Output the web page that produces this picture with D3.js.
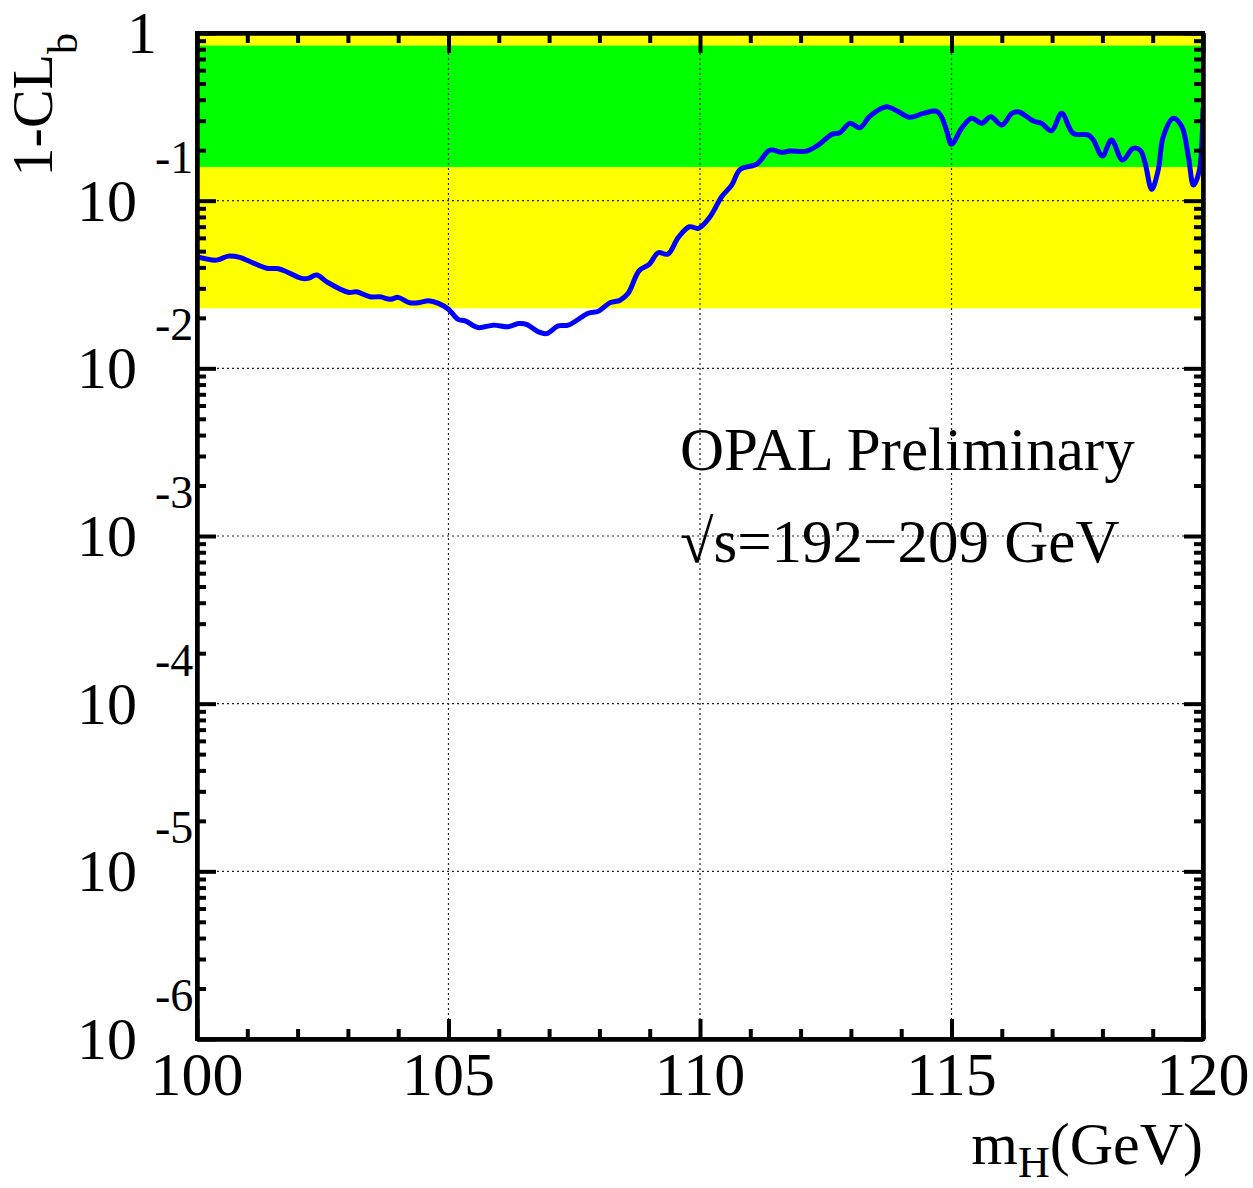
<!DOCTYPE html>
<html>
<head>
<meta charset="utf-8">
<script src="https://cdn.jsdelivr.net/npm/d3@7"></script>
<style>
  html, body { margin: 0; padding: 0; background: #fff; }
  svg { display: block; }
  text { font-family: "Liberation Serif", "Times New Roman", serif; fill: #000; }
</style>
</head>
<body>
<svg id="chart" width="1253" height="1188"></svg>
<script>
// Higgs mass hypothesis (GeV)
const mH = [100.0, 100.39, 100.62, 100.85, 101.02, 101.39, 101.62, 101.78, 102.08, 102.21,
  102.38, 102.58, 103.01, 103.17, 103.44, 103.64, 103.84, 104.0, 104.23, 104.43,
  104.6, 104.8, 105.0, 105.19, 105.33, 105.59, 105.89, 106.19, 106.39, 106.55,
  106.79, 106.95, 107.18, 107.38, 107.78, 107.98, 108.21, 108.41, 108.57, 108.79,
  108.99, 109.17, 109.36, 109.57, 109.79, 109.97, 110.2, 110.43, 110.63, 110.8,
  111.13, 111.39, 111.62, 111.79, 112.12, 112.35, 112.62, 112.78, 112.98, 113.18,
  113.38, 113.71, 113.91, 114.17, 114.44, 114.71, 114.8, 114.9, 115.0, 115.2,
  115.4, 115.6, 115.78, 116.0, 116.2, 116.33, 116.63, 116.79, 116.99, 117.19,
  117.42, 117.72, 117.82, 118.0, 118.18, 118.4, 118.61, 118.75, 118.85, 118.98,
  119.11, 119.21, 119.41, 119.58, 119.71, 119.81, 119.92, 120.0];

// Observed background confidence 1-CL_b
const clb = [0.0463, 0.0442, 0.0467, 0.0459, 0.0438, 0.0395, 0.0393, 0.0377, 0.0344, 0.0344,
  0.0360, 0.0328, 0.0284, 0.0286, 0.0267, 0.0267, 0.0258, 0.0265, 0.0246, 0.0247,
  0.0253, 0.0244, 0.0225, 0.0196, 0.0192, 0.0175, 0.0181, 0.0177, 0.0185, 0.0183,
  0.0165, 0.0161, 0.0179, 0.0181, 0.0213, 0.0219, 0.0246, 0.0255, 0.0280, 0.0382,
  0.0417, 0.0489, 0.0480, 0.0604, 0.0699, 0.0684, 0.0802, 0.1055, 0.1239, 0.1537,
  0.1654, 0.2003, 0.1941, 0.1976, 0.1976, 0.2147, 0.2486, 0.2541, 0.2892, 0.2723,
  0.3197, 0.3633, 0.3439, 0.3141, 0.3318, 0.3410, 0.3167, 0.2637, 0.2168, 0.2700,
  0.3098, 0.2892, 0.3167, 0.2826, 0.3318, 0.3391, 0.2985, 0.2892, 0.2613, 0.3318,
  0.2520, 0.2462, 0.2299, 0.1845, 0.2299, 0.1747, 0.2051, 0.2003, 0.1669, 0.1168,
  0.1523, 0.2406, 0.3098, 0.2760, 0.1827, 0.1239, 0.1481, 0.357];

// Expected background-only bands: 1 sigma and 2 sigma
const band1sigma = [0.1587, 0.8413];
const band2sigma = [0.0228, 0.9772];

// Axis ticks
const xMajorTicks = [100, 105, 110, 115, 120];
const xMinorTicks = d3.range(100, 121, 1).filter(v => v % 5 !== 0);
const yExponents = [0, -1, -2, -3, -4, -5, -6];
const xTickLabels = ["100", "105", "110", "115", "120"];

const svg = d3.select("#chart");
const W = 1253, H = 1188;
const plot = { left: 197, top: 33, right: 1203, bottom: 1039 };

const x = d3.scaleLinear().domain([100, 120]).range([plot.left, plot.right]);
const y = d3.scaleLog().domain([1e-6, 1]).range([plot.bottom, plot.top]);

svg.append("rect").attr("width", W).attr("height", H).attr("fill", "#fff");

svg.append("defs").append("clipPath").attr("id", "plotclip")
  .append("rect")
  .attr("x", plot.left).attr("y", plot.top)
  .attr("width", plot.right - plot.left).attr("height", plot.bottom - plot.top);

const area = svg.append("g").attr("clip-path", "url(#plotclip)");

// bands
area.append("rect")
  .attr("x", plot.left).attr("width", plot.right - plot.left)
  .attr("y", y(band2sigma[1])).attr("height", y(band2sigma[0]) - y(band2sigma[1]))
  .attr("fill", "#ffff00");
area.append("rect")
  .attr("x", plot.left).attr("width", plot.right - plot.left)
  .attr("y", y(band1sigma[1])).attr("height", y(band1sigma[0]) - y(band1sigma[1]))
  .attr("fill", "#00ff00");

// dotted grid
const grid = area.append("g")
  .attr("stroke", "#222").attr("stroke-width", 1.2).attr("stroke-dasharray", "2,3");
grid.selectAll("line.gx").data(xMajorTicks.slice(1, -1)).join("line")
  .attr("x1", d => x(d)).attr("x2", d => x(d))
  .attr("y1", plot.top).attr("y2", plot.bottom);
grid.selectAll("line.gy").data(yExponents.slice(1, -1)).join("line")
  .attr("x1", plot.left).attr("x2", plot.right)
  .attr("y1", d => y(Math.pow(10, d))).attr("y2", d => y(Math.pow(10, d)));

// observed curve
const pts = mH.map((m, i) => [m, clb[i]]);
const line = d3.line()
  .x(d => x(d[0])).y(d => y(d[1]))
  .curve(d3.curveCatmullRom.alpha(0.5));
area.append("path")
  .attr("d", line(pts))
  .attr("fill", "none").attr("stroke", "#0000ff")
  .attr("stroke-width", 5).attr("stroke-linejoin", "round");

// axes with inward ticks
const yMinorTicks = [];
for (let e = -6; e < 0; e++) {
  for (let k = 2; k <= 9; k++) yMinorTicks.push(k * Math.pow(10, e));
}
const yMajor = yExponents.map(e => Math.pow(10, e));

function styleAxis(g) {
  g.selectAll("path.domain").attr("stroke", "#000").attr("stroke-width", 4);
  g.selectAll(".tick line").attr("stroke", "#000").attr("stroke-width", 4);
  g.selectAll(".tick text").remove();
}

svg.append("g").attr("transform", `translate(0,${plot.bottom})`)
  .call(d3.axisBottom(x).tickValues(xMajorTicks).tickSize(-20).tickSizeOuter(0).tickFormat(""))
  .call(styleAxis);
svg.append("g").attr("transform", `translate(0,${plot.bottom})`)
  .call(d3.axisBottom(x).tickValues(xMinorTicks).tickSize(-10).tickSizeOuter(0).tickFormat(""))
  .call(styleAxis);
svg.append("g").attr("transform", `translate(0,${plot.top})`)
  .call(d3.axisTop(x).tickValues(xMajorTicks).tickSize(-20).tickSizeOuter(0).tickFormat(""))
  .call(styleAxis);
svg.append("g").attr("transform", `translate(0,${plot.top})`)
  .call(d3.axisTop(x).tickValues(xMinorTicks).tickSize(-10).tickSizeOuter(0).tickFormat(""))
  .call(styleAxis);
svg.append("g").attr("transform", `translate(${plot.left},0)`)
  .call(d3.axisLeft(y).tickValues(yMajor).tickSize(-19).tickSizeOuter(0).tickFormat(""))
  .call(styleAxis);
svg.append("g").attr("transform", `translate(${plot.left},0)`)
  .call(d3.axisLeft(y).tickValues(yMinorTicks).tickSize(-9).tickSizeOuter(0).tickFormat(""))
  .call(styleAxis);
svg.append("g").attr("transform", `translate(${plot.right},0)`)
  .call(d3.axisRight(y).tickValues(yMajor).tickSize(-19).tickSizeOuter(0).tickFormat(""))
  .call(styleAxis);
svg.append("g").attr("transform", `translate(${plot.right},0)`)
  .call(d3.axisRight(y).tickValues(yMinorTicks).tickSize(-9).tickSizeOuter(0).tickFormat(""))
  .call(styleAxis);

// frame
svg.append("rect")
  .attr("x", plot.left).attr("y", plot.top)
  .attr("width", plot.right - plot.left).attr("height", plot.bottom - plot.top)
  .attr("fill", "none").attr("stroke", "#000").attr("stroke-width", 4);

// x tick labels
svg.selectAll("text.xl").data(xMajorTicks).join("text")
  .attr("class", "xl")
  .attr("x", d => x(d)).attr("y", 1095)
  .attr("text-anchor", "middle").attr("font-size", 62)
  .text((d, i) => xTickLabels[i]);

// y tick labels: 1, then 10 with raised exponent
yExponents.forEach(e => {
  const yy = y(Math.pow(10, e));
  if (e === 0) {
    svg.append("text").attr("x", 157).attr("y", yy + 20)
      .attr("text-anchor", "end").attr("font-size", 60).text("1");
  } else {
    svg.append("text").attr("x", 137).attr("y", yy + 20)
      .attr("text-anchor", "end").attr("font-size", 60).text("10");
    svg.append("text").attr("x", 155).attr("y", yy - 28)
      .attr("text-anchor", "start").attr("font-size", 46).text(String(e));
  }
});

// axis titles
const xt = svg.append("text").attr("x", plot.right).attr("y", 1164)
  .attr("text-anchor", "end").attr("font-size", 60);
xt.append("tspan").text("m");
xt.append("tspan").attr("font-size", 44).attr("dy", 13).text("H");
xt.append("tspan").attr("dy", -13).text("(GeV)");

const yt = svg.append("text")
  .attr("transform", "translate(52,33) rotate(-90)")
  .attr("text-anchor", "end").attr("font-size", 58);
yt.append("tspan").text("1-CL");
yt.append("tspan").attr("font-size", 42).attr("dy", 25).text("b");

// annotations
svg.append("text").attr("x", 680).attr("y", 470)
  .attr("font-size", 61).text("OPAL Preliminary");
svg.append("text").attr("x", 680).attr("y", 562)
  .attr("font-size", 61).text("\u221As=192\u2212209 GeV");
</script>
</body>
</html>
